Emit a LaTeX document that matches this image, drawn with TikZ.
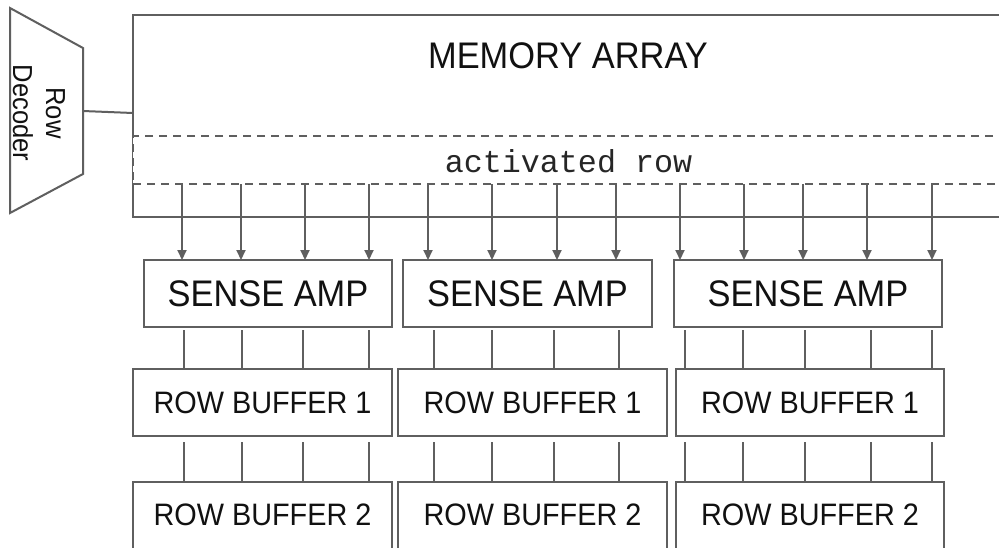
\documentclass[tikz,border=0pt]{standalone}
\usepackage{fontspec}
\setmainfont{Liberation Sans}[FakeStretch=0.93]
\newfontfamily\monofont{Liberation Mono}
\usetikzlibrary{arrows.meta}
\definecolor{lc}{RGB}{95,95,95}
\definecolor{tc}{RGB}{17,17,17}
\begin{document}
\begin{tikzpicture}[x=1pt,y=-1pt,
  box/.style={draw=lc,line width=2pt,fill=white,inner sep=0pt,outer sep=0pt},
  wire/.style={draw=lc,line width=2pt},
  arr/.style={wire,-{Triangle[length=10pt,width=9pt]}},
  lbl/.style={text=tc,inner sep=0pt,outer sep=0pt},
  big/.style={lbl,font=\fontsize{37}{44}\selectfont},
  mid/.style={lbl,font=\fontsize{31}{37}\selectfont},
]
\useasboundingbox (0,0) rectangle (999,547);
\clip (0,0) rectangle (999,547);
\fill[white] (0,0) rectangle (999,547);

% memory array
\node[box,minimum width=882,minimum height=202] (mem) at (574,116) {};
\node[box,dash pattern=on 8pt off 6pt,minimum width=882,minimum height=48] (act) at (574,160) {};
\node[big] (memtxt) at (568,56) {MEMORY ARRAY};
\node[lbl,anchor=base,text=black!85,font=\monofont\fontsize{31.7}{36}\selectfont] (acttxt) at (568.5,172) {activated row};

% row decoder
\draw[wire,fill=white] (10,8) coordinate (rdtl) -- (83,48) coordinate (rdtr) -- (83,174) coordinate (rdbr) -- (10,213) coordinate (rdbl) -- cycle;
\coordinate (rdout) at (83,111);
\coordinate (memin) at (133,113);
\node[lbl,rotate=-90,align=center,font=\fontsize{27.5}{33}\selectfont] (rdtxt) at (39,113) {Row\\Decoder};
\draw[wire] (rdout) -- (memin);

% sense amps
\node[box,minimum width=248,minimum height=67] (sa1) at (268,293.5) {};
\node[box,minimum width=249,minimum height=67] (sa2) at (527.5,293.5) {};
\node[box,minimum width=268,minimum height=67] (sa3) at (808,293.5) {};
\foreach \n in {sa1,sa2,sa3} {\node[big] (\n t) at (\n) {SENSE AMP};}

% row buffers 1
\node[box,minimum width=259,minimum height=67] (ra1) at (262.5,402.5) {};
\node[box,minimum width=269,minimum height=67] (ra2) at (532.5,402.5) {};
\node[box,minimum width=268,minimum height=67] (ra3) at (810,402.5) {};
\foreach \n in {ra1,ra2,ra3} {\node[mid] (\n t) at (\n) {ROW BUFFER 1};}

% row buffers 2
\node[box,minimum width=259,minimum height=80] (rb1) at (262.5,522) {};
\node[box,minimum width=269,minimum height=80] (rb2) at (532.5,522) {};
\node[box,minimum width=268,minimum height=80] (rb3) at (810,522) {};
\node[mid] (rb1t) at (262.5,514.5) {ROW BUFFER 2};
\node[mid] (rb2t) at (532.5,514.5) {ROW BUFFER 2};
\node[mid] (rb3t) at (810,514.5) {ROW BUFFER 2};

% arrows from activated row
\foreach \x in {182,241,305,369} {\draw[arr] (act.south -| \x,0) -- (sa1.north -| \x,0);}
\foreach \x in {428,492,557,616} {\draw[arr] (act.south -| \x,0) -- (sa2.north -| \x,0);}
\foreach \x in {680,744,803,867,932} {\draw[arr] (act.south -| \x,0) -- (sa3.north -| \x,0);}

% links sense amp -> row buffer 1 -> row buffer 2
\foreach \x in {184,242,303,369} {
  \draw[wire] (sa1.south -| \x,0) ++(0,3) -- (ra1.north -| \x,0);
  \draw[wire] (ra1.south -| \x,0) ++(0,6) -- (rb1.north -| \x,0);}
\foreach \x in {434,492,554,619} {
  \draw[wire] (sa2.south -| \x,0) ++(0,3) -- (ra2.north -| \x,0);
  \draw[wire] (ra2.south -| \x,0) ++(0,6) -- (rb2.north -| \x,0);}
\foreach \x in {685,743,805,871,932} {
  \draw[wire] (sa3.south -| \x,0) ++(0,3) -- (ra3.north -| \x,0);
  \draw[wire] (ra3.south -| \x,0) ++(0,6) -- (rb3.north -| \x,0);}
\end{tikzpicture}
\end{document}
